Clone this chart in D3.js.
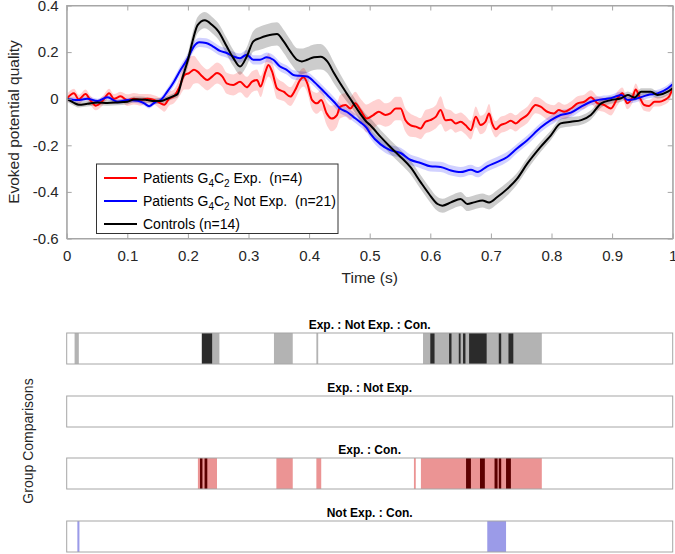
<!DOCTYPE html>
<html><head><meta charset="utf-8">
<script src="https://cdn.jsdelivr.net/npm/d3@7"></script>
<style>body{margin:0;background:#fff;} svg{display:block;font-family:"Liberation Sans",Arial,sans-serif;}</style>
</head><body>
<svg id="c" width="675" height="554"></svg>
<script>
// ---------- DATA ----------
const xTicks = [0,0.1,0.2,0.3,0.4,0.5,0.6,0.7,0.8,0.9,1];
const xTickLabels = ["0","0.1","0.2","0.3","0.4","0.5","0.6","0.7","0.8","0.9","1"];
const yTicks = [0.4,0.2,0,-0.2,-0.4,-0.6];
const yTickLabels = ["0.4","0.2","0","-0.2","-0.4","-0.6"];

// Patients G4C2 Exp. (red)
const expTime = [0,0.012,0.02,0.031,0.04,0.048,0.059,0.07,0.078,0.089,0.1,0.111,0.122,0.133,0.144,0.155,0.161,0.169,0.177,0.186,0.194,0.202,0.21,0.216,0.224,0.232,0.24,0.248,0.257,0.264,0.275,0.286,0.297,0.306,0.314,0.32,0.328,0.333,0.339,0.347,0.358,0.369,0.377,0.385,0.391,0.397,0.405,0.413,0.42,0.429,0.437,0.446,0.451,0.46,0.468,0.476,0.485,0.495,0.506,0.515,0.526,0.534,0.543,0.551,0.559,0.567,0.576,0.584,0.592,0.6,0.609,0.617,0.625,0.634,0.642,0.65,0.658,0.667,0.675,0.683,0.691,0.697,0.702,0.708,0.716,0.724,0.733,0.741,0.749,0.76,0.774,0.782,0.793,0.804,0.812,0.821,0.832,0.843,0.854,0.865,0.876,0.887,0.898,0.909,0.917,0.925,0.934,0.939,0.945,0.953,0.961,0.97,0.978,0.986,0.994,1.0];
const expMean = [0,0.023,-0.003,0.02,-0.01,-0.03,-0.01,0.023,0,0.01,-0.006,0,-0.005,0,-0.005,-0.02,-0.026,0,0.01,0.05,0.1,0.11,0.124,0.116,0.095,0.08,0.095,0.11,0.095,0.066,0.059,0.073,0.049,0.073,0.08,0.052,0.116,0.145,0.116,0.045,0.03,0.009,0.037,0.08,0.092,0.066,-0.006,-0.02,-0.006,-0.063,-0.085,-0.07,-0.035,-0.027,-0.042,-0.02,-0.05,-0.085,-0.07,-0.056,-0.07,-0.063,-0.042,-0.042,-0.092,-0.113,-0.12,-0.128,-0.099,-0.092,-0.078,-0.049,-0.092,-0.09,-0.106,-0.099,-0.113,-0.135,-0.078,-0.113,-0.099,-0.063,-0.106,-0.131,-0.113,-0.106,-0.095,-0.106,-0.09,-0.07,-0.027,-0.034,-0.056,-0.063,-0.049,-0.056,-0.042,-0.02,-0.013,0.006,-0.02,-0.027,-0.042,0.002,0.023,-0.02,0.009,0.04,0.009,-0.027,-0.031,-0.013,-0.013,-0.006,0.009,0.045];
const expSem = [0.02,0.02,0.02,0.02,0.02,0.02,0.02,0.02,0.02,0.02,0.025,0.025,0.025,0.02,0.02,0.025,0.03,0.03,0.03,0.04,0.06,0.07,0.06,0.05,0.045,0.045,0.045,0.045,0.045,0.045,0.045,0.045,0.045,0.045,0.045,0.045,0.045,0.05,0.045,0.045,0.04,0.04,0.04,0.04,0.04,0.04,0.04,0.045,0.045,0.05,0.055,0.05,0.05,0.05,0.05,0.05,0.05,0.06,0.06,0.055,0.05,0.05,0.05,0.05,0.05,0.05,0.045,0.045,0.05,0.05,0.05,0.06,0.05,0.04,0.04,0.04,0.04,0.04,0.045,0.04,0.04,0.04,0.035,0.035,0.035,0.035,0.035,0.035,0.035,0.035,0.035,0.035,0.035,0.035,0.035,0.03,0.03,0.03,0.03,0.03,0.03,0.03,0.03,0.03,0.025,0.025,0.025,0.025,0.025,0.025,0.025,0.02,0.02,0.02,0.02,0.02];

// Patients G4C2 Not Exp. (blue)
const notExpTime = [0,0.018,0.034,0.051,0.067,0.084,0.1,0.117,0.128,0.136,0.147,0.155,0.166,0.177,0.188,0.2,0.21,0.219,0.23,0.241,0.253,0.264,0.275,0.286,0.297,0.308,0.319,0.33,0.341,0.352,0.363,0.374,0.385,0.397,0.408,0.419,0.43,0.441,0.451,0.462,0.473,0.484,0.495,0.501,0.518,0.534,0.551,0.567,0.584,0.6,0.617,0.634,0.65,0.667,0.678,0.694,0.71,0.727,0.743,0.76,0.782,0.799,0.815,0.832,0.849,0.865,0.882,0.898,0.915,0.926,0.942,0.959,0.975,0.992,1.0];
const notExpMean = [0,-0.006,0,-0.01,0.006,-0.013,-0.006,-0.009,-0.02,-0.032,-0.013,-0.006,0.03,0.073,0.124,0.174,0.225,0.242,0.239,0.225,0.205,0.196,0.181,0.174,0.189,0.167,0.167,0.178,0.167,0.138,0.124,0.102,0.098,0.095,0.073,0.045,0.016,-0.013,-0.042,-0.056,-0.078,-0.1,-0.125,-0.15,-0.196,-0.221,-0.233,-0.262,-0.276,-0.29,-0.293,-0.308,-0.315,-0.305,-0.315,-0.29,-0.272,-0.25,-0.214,-0.178,-0.124,-0.092,-0.07,-0.06,-0.034,-0.013,-0.003,0.002,0.016,-0.006,0.002,0.016,0.023,0.045,0.062];
const notExpSem = [0.01,0.01,0.01,0.01,0.01,0.01,0.01,0.01,0.01,0.01,0.01,0.012,0.015,0.018,0.02,0.02,0.02,0.02,0.02,0.02,0.02,0.02,0.02,0.02,0.02,0.02,0.02,0.02,0.02,0.02,0.02,0.02,0.02,0.02,0.02,0.02,0.02,0.02,0.02,0.02,0.02,0.02,0.02,0.02,0.022,0.022,0.022,0.022,0.022,0.022,0.022,0.022,0.022,0.022,0.022,0.022,0.022,0.022,0.02,0.02,0.02,0.02,0.02,0.02,0.018,0.016,0.015,0.015,0.015,0.015,0.015,0.015,0.015,0.015,0.015];

// Controls (black)
const conTime = [0,0.012,0.02,0.034,0.051,0.067,0.084,0.1,0.111,0.122,0.133,0.144,0.155,0.166,0.177,0.183,0.191,0.2,0.208,0.216,0.228,0.24,0.25,0.264,0.275,0.286,0.297,0.308,0.319,0.33,0.347,0.358,0.369,0.38,0.388,0.397,0.408,0.419,0.43,0.441,0.451,0.462,0.473,0.484,0.495,0.501,0.518,0.534,0.551,0.567,0.584,0.598,0.612,0.62,0.634,0.65,0.661,0.672,0.686,0.697,0.71,0.727,0.743,0.76,0.782,0.799,0.815,0.832,0.849,0.865,0.882,0.898,0.915,0.926,0.937,0.948,0.964,0.975,0.992,1.0];
const conMean = [0,-0.018,-0.026,-0.022,-0.016,-0.018,-0.016,-0.013,-0.003,-0.003,-0.006,-0.01,-0.01,0,0.012,0.02,0.09,0.166,0.25,0.316,0.337,0.316,0.29,0.225,0.174,0.138,0.18,0.246,0.26,0.27,0.278,0.246,0.203,0.167,0.16,0.167,0.178,0.18,0.16,0.11,0.067,0.023,-0.02,-0.063,-0.1,-0.114,-0.164,-0.207,-0.25,-0.293,-0.358,-0.409,-0.452,-0.459,-0.445,-0.43,-0.452,-0.445,-0.437,-0.445,-0.423,-0.387,-0.344,-0.279,-0.207,-0.157,-0.106,-0.099,-0.092,-0.07,-0.02,-0.006,0.002,0.016,0.005,0.03,0.03,0.016,0.03,0.045];
const conSem = [0.012,0.012,0.012,0.012,0.012,0.012,0.012,0.012,0.012,0.012,0.012,0.012,0.012,0.012,0.012,0.015,0.025,0.03,0.035,0.035,0.035,0.035,0.035,0.035,0.035,0.035,0.04,0.045,0.05,0.05,0.05,0.05,0.05,0.05,0.055,0.055,0.055,0.055,0.05,0.045,0.04,0.035,0.03,0.03,0.03,0.03,0.03,0.03,0.03,0.03,0.03,0.03,0.03,0.03,0.03,0.03,0.03,0.03,0.03,0.03,0.03,0.028,0.025,0.025,0.022,0.02,0.02,0.02,0.02,0.02,0.018,0.016,0.015,0.015,0.015,0.015,0.015,0.015,0.015,0.015];

const seriesNames = ["Patients G4C2 Exp.  (n=4)", "Patients G4C2 Not Exp.  (n=21)", "Controls (n=14)"];

// Group comparisons: significant intervals [start, end] in seconds
const panelTitles = ["Exp. : Not Exp. : Con.", "Exp. : Not Exp.", "Exp. : Con.", "Not Exp. : Con."];
const allLight = [[0.013,0.02],[0.223,0.252],[0.342,0.373],[0.412,0.415],[0.588,0.784]];
const allDark = [[0.223,0.240],[0.600,0.607],[0.631,0.635],[0.647,0.650],[0.654,0.658],[0.664,0.693],[0.713,0.717],[0.729,0.737]];
const expNotLight = [];
const expNotDark = [];
const expConLight = [[0.2165,0.248],[0.346,0.373],[0.412,0.420],[0.573,0.576],[0.5845,0.784]];
const expConDark = [[0.220,0.224],[0.2275,0.232],[0.659,0.667],[0.682,0.690],[0.706,0.711],[0.713,0.717],[0.725,0.733]];
const notConLight = [[0.0176,0.021],[0.694,0.725]];
const notConDark = [];

// ---------- DRAW ----------
const svg = d3.select("#c");
const L = 66.7, R = 672.7, T = 5.5, B = 238.5;
const axisCol = "#a6a6a6", textCol = "#262626";
const x = d3.scaleLinear().domain([0,1]).range([L,R]);
const y = d3.scaleLinear().domain([-0.6,0.4]).range([B,T]);

svg.append("defs").append("clipPath").attr("id","pc")
  .append("rect").attr("x",L).attr("y",T).attr("width",R-L).attr("height",B-T);

const series = [
  {t:expTime, m:expMean, s:expSem, line:"#ff0000", band:"rgba(255,0,0,0.18)"},
  {t:notExpTime, m:notExpMean, s:notExpSem, line:"#0000ff", band:"rgba(0,0,255,0.18)"},
  {t:conTime, m:conMean, s:conSem, line:"#000000", band:"rgba(0,0,0,0.2)"}
];
const g = svg.append("g").attr("clip-path","url(#pc)");
series.forEach(sr => {
  const d = sr.t.map((t,i)=>({t, m:sr.m[i], s:sr.s[i]}));
  g.append("path").datum(d)
    .attr("d", d3.area().curve(d3.curveMonotoneX).x(p=>x(p.t)).y0(p=>y(p.m-p.s)).y1(p=>y(p.m+p.s))(d))
    .attr("fill", sr.band).attr("stroke","none");
});
series.forEach(sr => {
  const d = sr.t.map((t,i)=>({t, m:sr.m[i]}));
  g.append("path").datum(d)
    .attr("d", d3.line().curve(d3.curveMonotoneX).x(p=>x(p.t)).y(p=>y(p.m))(d))
    .attr("fill","none").attr("stroke", sr.line).attr("stroke-width",2);
});

// axes
const fmtX = (d,i)=>xTickLabels[i], fmtY=(d,i)=>yTickLabels[i];
const ax = svg.append("g").attr("transform",`translate(0,${B})`)
  .call(d3.axisBottom(x).tickValues(xTicks).tickFormat(fmtX).tickSizeInner(-5).tickSizeOuter(0).tickPadding(12));
const ay = svg.append("g").attr("transform",`translate(${L},0)`)
  .call(d3.axisLeft(y).tickValues(yTicks).tickFormat(fmtY).tickSizeInner(-5).tickSizeOuter(0).tickPadding(8));
const axTop = svg.append("g").attr("transform",`translate(0,${T})`)
  .call(d3.axisTop(x).tickValues(xTicks).tickFormat("").tickSizeInner(-5).tickSizeOuter(0));
const ayR = svg.append("g").attr("transform",`translate(${R},0)`)
  .call(d3.axisRight(y).tickValues(yTicks).tickFormat("").tickSizeInner(-5).tickSizeOuter(0));
[ax,ay,axTop,ayR].forEach(a=>{
  a.selectAll("path").attr("stroke",axisCol);
  a.selectAll("line").attr("stroke",axisCol);
  a.selectAll("text").attr("fill",textCol).style("font-size","15px").style("font-family",'"Liberation Sans",Arial,sans-serif');
});
svg.append("rect").attr("x",L).attr("y",T).attr("width",R-L).attr("height",B-T)
  .attr("fill","none").attr("stroke",axisCol).attr("stroke-width",1);

svg.append("text").attr("x",(L+R)/2).attr("y",283).attr("text-anchor","middle")
  .attr("fill",textCol).style("font-size","15.5px").text("Time (s)");
svg.append("text").attr("transform",`translate(18.5,${(T+B)/2}) rotate(-90)`).attr("text-anchor","middle")
  .attr("fill",textCol).style("font-size","15.5px").text("Evoked potential quality");

// legend
const lg = svg.append("g");
lg.append("rect").attr("x",96.5).attr("y",164).attr("width",241.5).attr("height",69.5)
  .attr("fill","#fff").attr("stroke","#333").attr("stroke-width",1);
const legY = [178, 201, 224];
series.forEach((sr,i)=>{
  lg.append("line").attr("x1",104).attr("x2",137).attr("y1",legY[i]).attr("y2",legY[i])
    .attr("stroke",sr.line).attr("stroke-width",2);
  const tx = lg.append("text").attr("x",143).attr("y",legY[i]+5).attr("fill","#000").style("font-size","14px");
  const name = seriesNames[i];
  if (name.indexOf("G4C2")>=0) {
    const parts = name.split("G4C2");
    tx.append("tspan").text(parts[0]+"G");
    tx.append("tspan").attr("dy",4).style("font-size","10px").text("4");
    tx.append("tspan").attr("dy",-4).text("C");
    tx.append("tspan").attr("dy",4).style("font-size","10px").text("2");
    tx.append("tspan").attr("dy",-4).text(parts[1]);
  } else tx.text(name);
});
lg.selectAll("text").attr("xml:space","preserve").style("white-space","pre");

// group comparison panels
const panels = [
  {light:allLight, dark:allDark, lc:"#b3b3b3", dc:"#2b2b2b"},
  {light:expNotLight, dark:expNotDark, lc:"#b3b3b3", dc:"#2b2b2b"},
  {light:expConLight, dark:expConDark, lc:"#eb9494", dc:"#5c0000"},
  {light:notConLight, dark:notConDark, lc:"#9b9be8", dc:"#1a1a80"}
];
const panelTop = [333, 396, 458, 521], ph = 31;
panels.forEach((p,i)=>{
  const pg = svg.append("g");
  const y0 = panelTop[i];
  pg.selectAll("rect.l").data(p.light).join("rect")
    .attr("x",d=>x(d[0])).attr("width",d=>Math.max(1,x(d[1])-x(d[0])))
    .attr("y",y0).attr("height",ph).attr("fill",p.lc);
  pg.selectAll("rect.d").data(p.dark).join("rect")
    .attr("x",d=>x(d[0])).attr("width",d=>Math.max(1,x(d[1])-x(d[0])))
    .attr("y",y0).attr("height",ph).attr("fill",p.dc);
  pg.append("rect").attr("x",L).attr("y",y0).attr("width",R-L).attr("height",ph)
    .attr("fill","none").attr("stroke",axisCol).attr("stroke-width",1);
  pg.append("text").attr("x",(L+R)/2).attr("y",y0-4).attr("text-anchor","middle")
    .attr("fill","#000").style("font-size","12px").style("font-weight","bold").text(panelTitles[i]);
});
svg.append("text").attr("transform",`translate(33,441) rotate(-90)`).attr("text-anchor","middle")
  .attr("fill",textCol).style("font-size","14px").text("Group Comparisons");
</script>
</body></html>
